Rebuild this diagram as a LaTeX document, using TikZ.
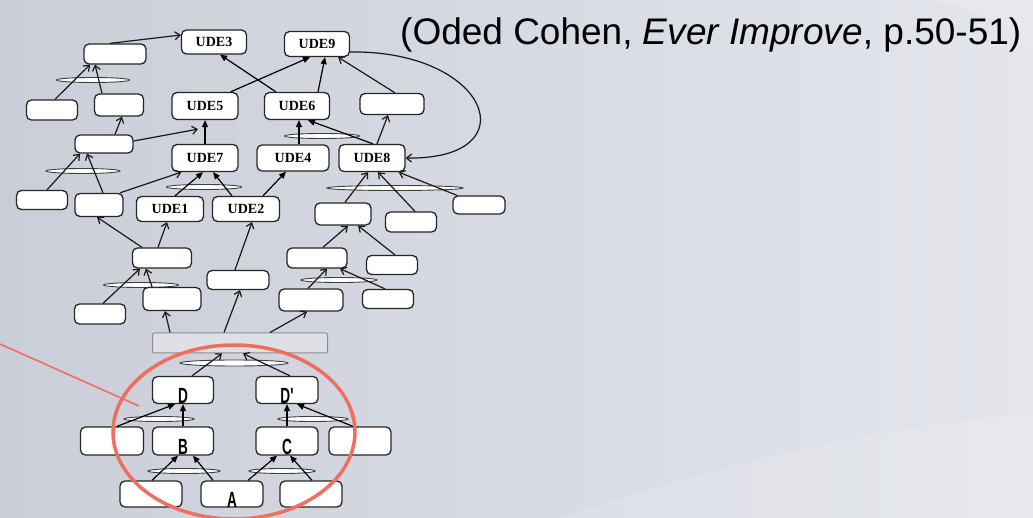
\documentclass[tikz,border=0pt]{standalone}
\usepackage{fontspec}
\setmainfont{Liberation Serif}
\newfontfamily\arialf{Liberation Sans}
\newfontfamily\condf{Liberation Sans}[FakeStretch=0.62]
\usetikzlibrary{arrows.meta,calc,shapes.geometric}
\definecolor{bgl}{RGB}{202,206,216}
\definecolor{bgr}{RGB}{228,230,236}
\definecolor{redc}{RGB}{240,110,95}
\definecolor{grayfill}{RGB}{222,224,229}
\tikzset{
  box/.style={draw=black!85, line width=1.3pt, fill=white, rounded corners=5pt, inner sep=0pt},
  ude/.style={box, font=\bfseries\fontsize{14}{14}\selectfont},
  letter/.style={box, font=\condf\bfseries\fontsize{22}{22}\selectfont, text height=26pt, text depth=0pt, inner ysep=0pt},
  andell/.style={draw=black!75, line width=0.9pt, fill=white, ellipse, inner sep=0pt},
  oarrow/.style={draw=black!90, line width=1.2pt, -{Straight Barb[length=5pt,width=8pt]}},
  farrow/.style={draw=black, line width=1.2pt, -{Triangle[length=7pt,width=6pt]}},
}
\begin{document}
\begin{tikzpicture}[x=1pt,y=-1pt]
\useasboundingbox (0,0) rectangle (1033,518);
\shade[left color=bgl, right color=bgr] (0,0) rectangle (1033,518);
\fill[white, opacity=0.12] (560,518) .. controls (760,450) and (930,420) .. (1033,415) -- (1033,518) -- cycle;
\fill[white, opacity=0.15] (930,0) .. controls (985,10) and (1015,30) .. (1033,50) -- (1033,0) -- cycle;

% title
\node[anchor=base west, inner sep=0pt, font=\arialf\fontsize{37}{40}\selectfont] (title) at (400,45) {(Oded Cohen, \textit{Ever Improve}, p.50-51)};

% AND ellipses
\node[andell, minimum width=73, minimum height=5] (e1) at (93,80) {};
\node[andell, minimum width=75, minimum height=5] (e2) at (322,136) {};
\node[andell, minimum width=74, minimum height=5] (e3) at (83,171) {};
\node[andell, minimum width=75, minimum height=5] (e4) at (204,187) {};
\node[andell, minimum width=136, minimum height=5] (e5) at (395,188) {};
\node[andell, minimum width=75, minimum height=5] (e6) at (141,285) {};
\node[andell, minimum width=76, minimum height=5] (e7) at (339,280) {};
\node[andell, minimum width=108, minimum height=6] (e8) at (234,363) {};
\node[andell, minimum width=70, minimum height=5] (e9) at (159,419) {};
\node[andell, minimum width=70, minimum height=5] (e10) at (313,419) {};
\node[andell, minimum width=72, minimum height=5] (e11) at (184,471) {};
\node[andell, minimum width=66, minimum height=5] (e12) at (282,471) {};

% boxes
\node[box, minimum width=62, minimum height=20] (n0) at (115,54) {};
\node[ude, minimum width=65, minimum height=24] (ude3) at (214,42) {UDE3};
\node[ude, minimum width=65, minimum height=25] (ude9) at (317,44) {UDE9};
\node[box, minimum width=51, minimum height=20] (n1) at (52,110) {};
\node[box, minimum width=49, minimum height=22] (n2) at (119,105) {};
\node[ude, minimum width=66, minimum height=27] (ude5) at (205,106) {UDE5};
\node[ude, minimum width=65, minimum height=27] (ude6) at (297,106) {UDE6};
\node[box, minimum width=64, minimum height=21] (n3) at (392,104) {};
\node[box, minimum width=58, minimum height=18] (n4) at (104,144) {};
\node[ude, minimum width=66, minimum height=27] (ude7) at (205,158) {UDE7};
\node[ude, minimum width=72, minimum height=26] (ude4) at (293,158) {UDE4};
\node[ude, minimum width=66, minimum height=27] (ude8) at (372,158) {UDE8};
\node[box, minimum width=51, minimum height=19] (n5) at (42,200) {};
\node[box, minimum width=48, minimum height=23] (n6) at (99,205) {};
\node[ude, minimum width=67, minimum height=25] (ude1) at (170,209) {UDE1};
\node[ude, minimum width=67, minimum height=25] (ude2) at (246,209) {UDE2};
\node[box, minimum width=56, minimum height=22] (n7) at (343,214) {};
\node[box, minimum width=51, minimum height=20] (n8) at (411,222) {};
\node[box, minimum width=52, minimum height=18] (n9) at (479,205) {};
\node[box, minimum width=59, minimum height=20] (n10) at (162,258) {};
\node[box, minimum width=60, minimum height=20] (n11) at (317,258) {};
\node[box, minimum width=51, minimum height=19] (n12) at (392,265) {};
\node[box, minimum width=62, minimum height=19] (n13) at (238,280) {};
\node[box, minimum width=58, minimum height=23] (n14) at (172,299) {};
\node[box, minimum width=51, minimum height=20] (n15) at (100,314) {};
\node[box, minimum width=64, minimum height=22] (n16) at (311,300) {};
\node[box, minimum width=51, minimum height=19] (n17) at (388,299) {};
\node[draw=black!45, fill=grayfill, rounded corners=2pt, line width=1pt, inner sep=0pt, minimum width=175, minimum height=20] (g) at (240,343) {};
\node[letter, minimum width=61, minimum height=27] (D) at (183,390) {D};
\node[letter, minimum width=62, minimum height=27] (Dp) at (287,390) {D'};
\node[box, minimum width=63, minimum height=28] (n18) at (112,441) {};
\node[letter, minimum width=61, minimum height=28] (B) at (183,441) {B};
\node[letter, minimum width=62, minimum height=28] (C) at (287,441) {C};
\node[box, minimum width=62, minimum height=28] (n19) at (360,441) {};
\node[box, minimum width=62, minimum height=26] (n20) at (151,494) {};
\node[letter, minimum width=62, minimum height=26] (A) at (232,494) {A};
\node[box, minimum width=62, minimum height=26] (n21) at (311,494) {};

% bottom connectors
\draw[farrow] ([xshift=1]n20.north) -- ([xshift=-5]B.south);
\draw[farrow] ([xshift=-19]A.north) -- ([xshift=10]B.south);
\draw[farrow] ([xshift=16]A.north) -- ([xshift=-10]C.south);
\draw[farrow] ([xshift=1]n21.north) -- ([xshift=3]C.south);
\draw[farrow] ([xshift=5]n18.north) -- ([xshift=-8]D.south);
\draw[farrow] (B.north) -- (D.south);
\draw[farrow] (C.north) -- (Dp.south);
\draw[farrow] ([xshift=-7]n19.north) -- ([xshift=10]Dp.south);
\draw[oarrow] ([xshift=9]D.north) -- ([xshift=-18]g.south);
\draw[oarrow] ([xshift=3]Dp.north) -- ([xshift=3]g.south);

% middle connectors
\draw[oarrow] ([xshift=-70]g.north) -- ([xshift=-7]n14.south);
\draw[oarrow] ([xshift=-16]g.north) -- ([xshift=2]n13.south);
\draw[oarrow] ([xshift=30]g.north) -- ([xshift=-4]n16.south);
\draw[oarrow] ([xshift=3]n15.north) -- ([xshift=-22]n10.south);
\draw[oarrow] ([xshift=-20]n14.north) -- ([xshift=-16]n10.south);
\draw[oarrow] ([xshift=-4]n10.north) -- ([xshift=-3]ude1.south);
\draw[oarrow] ([xshift=-20]n10.north) -- ([xshift=-2]n6.south);
\draw[oarrow] ([xshift=-3]n13.north) -- ([xshift=6]ude2.south);
\draw[oarrow] ([xshift=-3]n16.north) -- ([xshift=10]n11.south);
\draw[oarrow] ([xshift=-3]n17.north) -- ([xshift=23]n11.south);
\draw[oarrow] ([xshift=6]n11.north) -- ([xshift=5]n7.south);
\draw[oarrow] ([xshift=3]n12.north) -- ([xshift=15]n7.south);
\draw[oarrow] ([xshift=2]n7.north) -- ([xshift=-4]ude8.south);
\draw[oarrow] ([xshift=4]n8.north) -- ([xshift=6]ude8.south);
\draw[oarrow] ([xshift=-22]n9.north) -- ([xshift=-7]ude8.south east);

% upper connectors
\draw[farrow] ([xshift=17]ude2.north) -- ([xshift=-7]ude4.south);
\draw[farrow] ([xshift=5]ude1.north) -- ([xshift=-2]ude7.south);
\draw[farrow] ([xshift=-14]ude2.north) -- ([xshift=8]ude7.south);
\draw[oarrow] ([xshift=21]n6.north) -- ([xshift=10]ude7.south west);
\draw[oarrow] ([xshift=5]n5.north) -- ([xshift=-24]n4.south);
\draw[oarrow] ([xshift=4]n6.north) -- ([xshift=-17]n4.south);
\draw[oarrow] ([xshift=11]n4.north) -- ([xshift=3]n2.south);
\draw[oarrow] ([yshift=3]n4.east) -- ([xshift=-7,yshift=-9]ude5.south);
\draw[farrow] (ude7.north) -- (ude5.south);
\draw[oarrow] ([xshift=3]n1.north) -- ([xshift=-25]n0.south);
\draw[oarrow] ([xshift=-17]n2.north) -- ([xshift=-20]n0.south);
\draw[oarrow] ([xshift=-5]n0.north) -- ([yshift=7]ude3.west);
\draw[farrow] ([xshift=-8]ude5.north east) -- ([xshift=-7]ude9.south);
\draw[farrow] ([xshift=12]ude6.north west) -- ([xshift=6]ude3.south);
\draw[farrow] ([xshift=21]ude6.north) -- ([xshift=8]ude9.south);
\draw[oarrow] ([xshift=3]n3.north) -- ([xshift=-12]ude9.south east);
\draw[oarrow] ([xshift=5]ude8.north) -- ([xshift=-4]n3.south);
\draw[farrow] ([xshift=6]ude4.north) -- ([xshift=2]ude6.south);
\draw[farrow] ([xshift=1]ude8.north) -- ([xshift=11]ude6.south);
\draw[oarrow] ([yshift=-8]ude9.east) .. controls (490,50) and (530,160) .. (ude8.east);

% highlight
\coordinate (r0) at (0,344);
\coordinate (r1) at (139,406);
\draw[redc, line width=1.6pt] (r0) -- (r1);
\draw[redc, line width=3.5pt] (234,432) ellipse [x radius=121, y radius=87];
\end{tikzpicture}
\end{document}
